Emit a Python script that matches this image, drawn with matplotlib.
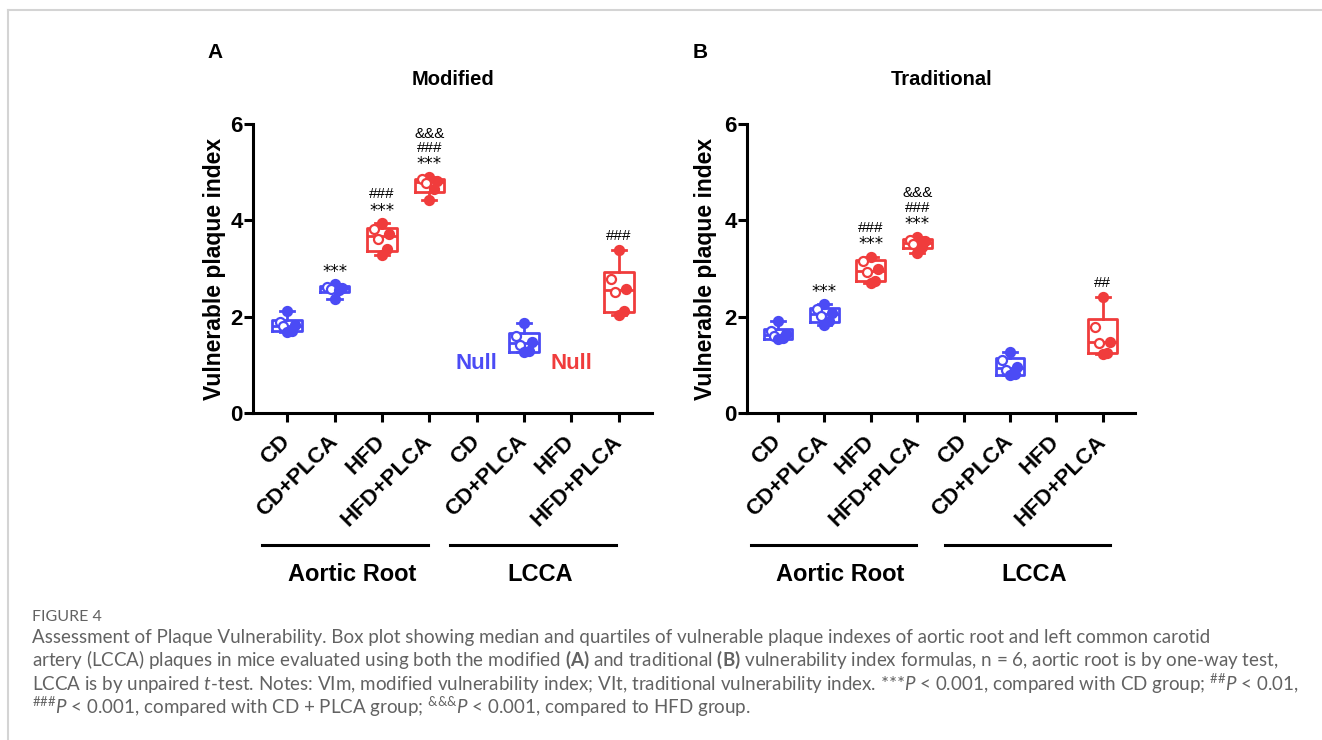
"""
Figure 4 - plaque vulnerability box plots (modified vs traditional index)
"""
import numpy as np
import matplotlib.pyplot as plt
import matplotlib.transforms as mtransforms
from matplotlib.lines import Line2D

plt.rcParams["font.family"] = ["Liberation Sans", "DejaVu Sans"]
plt.rcParams["mathtext.fontset"] = "custom"
plt.rcParams["mathtext.rm"] = "Lato"
plt.rcParams["mathtext.it"] = "Lato:italic"
plt.rcParams["mathtext.bf"] = "Lato:bold"

BLUE = "#4b4bf5"
RED = "#f03c3c"

tick_labels = ["CD", "CD+PLCA", "HFD", "HFD+PLCA", "CD", "CD+PLCA", "HFD", "HFD+PLCA"]
region_labels = ["Aortic Root", "LCCA"]

# modified index (panel A)
mod_cd = [2.12, 1.88, 1.82, 1.80, 1.70, 1.68]
mod_cd_plca = [2.67, 2.62, 2.60, 2.58, 2.55, 2.37]
mod_hfd = [3.94, 3.82, 3.72, 3.62, 3.40, 3.29]
mod_hfd_plca = [4.90, 4.85, 4.82, 4.78, 4.65, 4.42]
mod_lcca_cd_plca = [1.86, 1.60, 1.48, 1.42, 1.28, 1.26]
mod_lcca_hfd_plca = [3.38, 2.79, 2.58, 2.52, 2.12, 2.03]

# traditional index (panel B)
trad_cd = [1.90, 1.70, 1.65, 1.60, 1.55, 1.53]
trad_cd_plca = [2.26, 2.15, 2.08, 2.02, 1.92, 1.83]
trad_hfd = [3.24, 3.15, 2.98, 2.92, 2.75, 2.70]
trad_hfd_plca = [3.66, 3.60, 3.58, 3.50, 3.45, 3.32]
trad_lcca_cd_plca = [1.26, 1.10, 0.95, 0.90, 0.80, 0.78]
trad_lcca_hfd_plca = [2.40, 1.79, 1.48, 1.45, 1.25, 1.22]

mod_marks = [[], ["***"], ["***", "###"], ["***", "###", "&&&"], [], ["###"]]
trad_marks = [[], ["***"], ["***", "###"], ["***", "###", "&&&"], [], ["##"]]

box_pos = [0, 1, 2, 3, 5, 7]
box_colors = [BLUE, BLUE, RED, RED, BLUE, RED]
null_pos = [4, 6]
null_colors = [BLUE, RED]

JITTER = [0.0, -0.16, 0.16, -0.08, 0.1, 0.0]
OPEN = [False, True, False, True, False, False]


def draw_panel(ax, groups, marks, title, xlim, brackets, label_x, show_null):
    for vals, pos, col, mk in zip(groups, box_pos, box_colors, marks):
        v = np.array(vals)
        q1, med, q3 = np.percentile(v, [25, 50, 75], method="weibull")
        st = dict(med=med, q1=q1, q3=q3, whislo=v.min(), whishi=v.max(), fliers=[])
        lp = dict(color=col, linewidth=2.0)
        ax.bxp([st], positions=[pos], widths=0.62, capwidths=0.3, showfliers=False,
               boxprops=lp, whiskerprops=lp, capprops=lp, medianprops=lp,
               manage_ticks=False)
        for j, y in enumerate(sorted(vals, reverse=True)):
            ax.plot(pos + JITTER[j], y, "o", ms=6.5, mec=col, mew=1.6,
                    mfc="white" if OPEN[j] else col, zorder=3, clip_on=False)
        for k, m in enumerate(mk):
            if m == "***":
                ax.text(pos, v.max() + 0.26 + k * 0.3, m, ha="center", va="center",
                        fontsize=12, family="DejaVu Sans")
            else:
                ax.text(pos, v.max() + 0.3 + k * 0.3, m, ha="center", va="center",
                        fontsize=11)

    if show_null:
        for pos, col in zip(null_pos, null_colors):
            ax.text(pos, 1.02, "Null", color=col, fontsize=16, fontweight="bold",
                    ha="center", va="center")

    ax.set_xlim(*xlim)
    ax.set_ylim(0, 6)
    ax.set_yticks([0, 2, 4, 6])
    ax.set_xticks(range(len(tick_labels)))
    ax.set_xticklabels(tick_labels, rotation=45, ha="right", va="center",
                       rotation_mode="anchor", fontsize=16, fontweight="bold")
    for t in ax.get_yticklabels():
        t.set_fontweight("bold")
    ax.tick_params(axis="both", width=2.2, length=6.5, labelsize=16)
    ax.tick_params(axis="x", pad=12)
    ax.tick_params(axis="y", pad=1)
    ax.spines["top"].set_visible(False)
    ax.spines["right"].set_visible(False)
    ax.spines["left"].set_linewidth(2.2)
    ax.spines["bottom"].set_linewidth(2.2)
    ax.set_ylabel("Vulnerable plaque index", fontsize=16.5, fontweight="bold")
    ax.yaxis.set_label_coords(label_x, 0.5)
    ax.text(0.5, 1.155, title, transform=ax.transAxes, ha="center", va="center",
            fontsize=14.5, fontweight="bold")

    tr = mtransforms.blended_transform_factory(ax.transData, ax.transAxes)
    for (x0, x1), name in zip(brackets, region_labels):
        ax.plot([x0, x1], [-0.457, -0.457], color="black", lw=2.2,
                transform=tr, clip_on=False)
        ax.text((x0 + x1) / 2 + 0.15, -0.56, name, transform=tr, ha="center",
                va="center", fontsize=17, fontweight="bold")


fig = plt.figure(figsize=(13.22, 7.40), dpi=100)
axA = fig.add_axes([0.1914, 0.4419, 0.3018, 0.3905])
axB = fig.add_axes([0.5651, 0.4419, 0.2935, 0.3905])

draw_panel(axA, [mod_cd, mod_cd_plca, mod_hfd, mod_hfd_plca, mod_lcca_cd_plca, mod_lcca_hfd_plca],
           mod_marks, "Modified", (-0.72, 7.7), [(-0.53, 2.97), (3.44, 6.94)], -0.068, True)
draw_panel(axB, [trad_cd, trad_cd_plca, trad_hfd, trad_hfd_plca, trad_lcca_cd_plca, trad_lcca_hfd_plca],
           trad_marks, "Traditional", (-0.67, 7.7), [(-0.58, 2.97), (3.6, 7.15)], -0.077, False)

fig.text(215 / 1322, 1 - 52 / 740, "A", fontsize=15, fontweight="bold", ha="center", va="center")
fig.text(700 / 1322, 1 - 52 / 740, "B", fontsize=15, fontweight="bold", ha="center", va="center")

# page frame
fig.add_artist(Line2D([8 / 1322, 1], [1 - 10 / 740, 1 - 10 / 740], color="#d4d4d4", lw=1.5))
fig.add_artist(Line2D([8 / 1322, 8 / 1322], [0, 1 - 10 / 740], color="#d4d4d4", lw=1.5))

# caption
cap_color = "#626262"
fig.text(32 / 1322, 1 - 617 / 740, "FIGURE 4", fontsize=11.5, color=cap_color,
         family="Lato", va="center")
caption = [
    "Assessment of Plaque Vulnerability. Box plot showing median and quartiles of vulnerable plaque indexes of aortic root and left common carotid",
    r"artery (LCCA) plaques in mice evaluated using both the modified $\mathbf{(A)}$ and traditional $\mathbf{(B)}$ vulnerability index formulas, n = 6, aortic root is by one-way test,",
    r"LCCA is by unpaired $\mathit{t}$-test. Notes: VIm, modified vulnerability index; VIt, traditional vulnerability index. ***$\mathit{P}$ < 0.001, compared with CD group; $^{\#\#}\mathit{P}$ < 0.01,",
    r"$^{\#\#\#}\mathit{P}$ < 0.001, compared with CD + PLCA group; $^{&&&}\mathit{P}$ < 0.001, compared to HFD group.",
]
for i, line in enumerate(caption):
    fig.text(32 / 1322, 1 - (637 + i * 23.2) / 740, line, fontsize=13.5,
             color=cap_color, family="Lato", va="center")

fig.savefig("out.png", dpi=100, facecolor="white")
